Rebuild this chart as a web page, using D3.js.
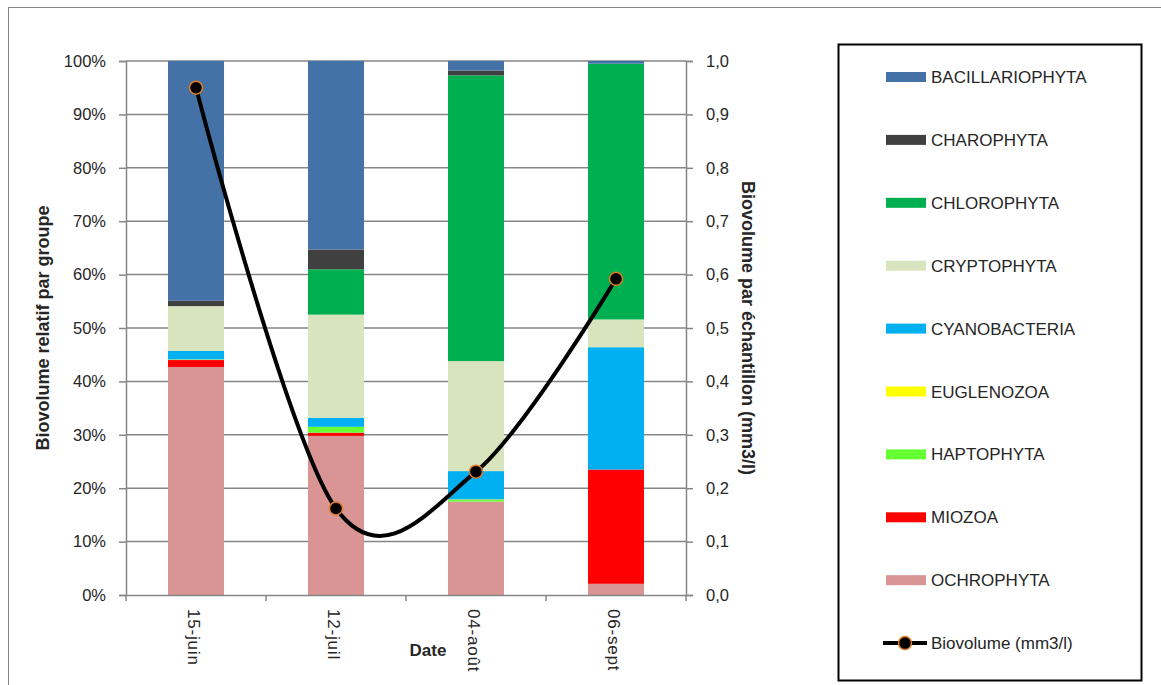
<!DOCTYPE html>
<html>
<head>
<meta charset="utf-8">
<script src="https://cdn.jsdelivr.net/npm/d3@7"></script>
<style>
  body { margin: 0; background: #fff; }
  svg { display: block; font-family: "Liberation Sans", Arial, sans-serif; }
</style>
</head>
<body>
<svg id="chart" width="1161" height="685"></svg>
<script>
// data (percent of biovolume per group)
const dates = ["15-juin", "12-juil", "04-août", "06-sept"];
const groups = ["BACILLARIOPHYTA", "CHAROPHYTA", "CHLOROPHYTA", "CRYPTOPHYTA",
  "CYANOBACTERIA", "EUGLENOZOA", "HAPTOPHYTA", "MIOZOA", "OCHROPHYTA"];
const colors = ["#4472A6", "#404040", "#00B050", "#D7E4BD",
  "#00B0F0", "#FFFF00", "#66FF33", "#FF0000", "#D99594"];

const bacillariophyta = [44.9, 35.3, 1.8, 0.5];
const charophyta      = [1.0, 3.7, 0.9, 0.0];
const chlorophyta     = [0.0, 8.5, 53.5, 47.9];
const cryptophyta     = [8.4, 19.3, 20.6, 5.2];
const cyanobacteria   = [1.6, 1.7, 5.3, 22.9];
const euglenozoa      = [0.1, 0.0, 0.1, 0.0];
const haptophyta      = [0.0, 1.1, 0.3, 0.0];
const miozoa          = [1.3, 0.6, 0.0, 21.4];
const ochrophyta      = [42.7, 29.8, 17.5, 2.1];

const biovolume = [0.95, 0.162, 0.231, 0.592]; // mm3/l

const pctTicks = [0, 10, 20, 30, 40, 50, 60, 70, 80, 90, 100];
const volTicks = [0, 0.1, 0.2, 0.3, 0.4, 0.5, 0.6, 0.7, 0.8, 0.9, 1.0];

const seriesByGroup = {
  BACILLARIOPHYTA: bacillariophyta, CHAROPHYTA: charophyta, CHLOROPHYTA: chlorophyta,
  CRYPTOPHYTA: cryptophyta, CYANOBACTERIA: cyanobacteria, EUGLENOZOA: euglenozoa,
  HAPTOPHYTA: haptophyta, MIOZOA: miozoa, OCHROPHYTA: ochrophyta
};

// rows for d3.stack
const rows = dates.map((d, i) => {
  const r = { date: d };
  groups.forEach(g => r[g] = seriesByGroup[g][i]);
  return r;
});

const svg = d3.select("#chart");
const plotLeft = 126, plotRight = 686, plotTop = 61, plotBottom = 595;
const grey = "#868686";
const textColor = "#262626";

// outer chart border
svg.append("rect")
  .attr("x", 8.5).attr("y", 7.5)
  .attr("width", 1170).attr("height", 700)
  .attr("fill", "none").attr("stroke", grey).attr("stroke-width", 1);

const x = d3.scaleBand().domain(dates).range([plotLeft, plotRight])
  .paddingInner(0.6).paddingOuter(0.3);
const y = d3.scaleLinear().domain([0, 100]).range([plotBottom, plotTop]);
const y2 = d3.scaleLinear().domain([0, 1]).range([plotBottom, plotTop]);
const color = d3.scaleOrdinal().domain(groups).range(colors);

// gridlines
svg.append("g").selectAll("line").data(pctTicks.slice(1)).join("line")
  .attr("x1", plotLeft).attr("x2", plotRight)
  .attr("y1", d => y(d)).attr("y2", d => y(d))
  .attr("stroke", grey).attr("stroke-width", 1.5);

// stacked bars, bottom group first
const stack = d3.stack().keys(groups.slice().reverse());
const layers = stack(rows);

svg.append("g").selectAll("g").data(layers).join("g")
  .attr("fill", d => color(d.key))
  .selectAll("rect").data(d => d).join("rect")
  .attr("x", d => x(d.data.date))
  .attr("width", x.bandwidth())
  .attr("y", d => y(d[1]))
  .attr("height", d => Math.max(0, y(d[0]) - y(d[1])));

// axes
const yAxis = d3.axisLeft(y).tickValues(pctTicks).tickFormat(d => d + "%")
  .tickSize(7).tickPadding(13);
const gy = svg.append("g").attr("transform", `translate(${plotLeft},0)`).call(yAxis);

const y2Axis = d3.axisRight(y2).tickValues(volTicks)
  .tickFormat(d => d3.format(".1f")(d).replace(".", ","))
  .tickSize(7).tickPadding(13);
const gy2 = svg.append("g").attr("transform", `translate(${plotRight},0)`).call(y2Axis);

const xAxis = d3.axisBottom(x).tickSize(0).tickFormat("");
const gx = svg.append("g").attr("transform", `translate(0,${plotBottom})`).call(xAxis);

// category boundary ticks on the x axis
const bounds = [plotLeft].concat(dates.map(d => x(d) + x.bandwidth() + x.step() * 0.3));
gx.selectAll(".bound").data(bounds).join("line").attr("class", "bound")
  .attr("x1", d => d).attr("x2", d => d)
  .attr("y1", 0).attr("y2", 6)
  .attr("stroke", grey).attr("stroke-width", 1.5);

[gy, gy2, gx].forEach(g => {
  g.select(".domain").attr("stroke", grey).attr("stroke-width", 1.5);
  g.selectAll(".tick line").attr("stroke", grey).attr("stroke-width", 1.5);
  g.selectAll("text").attr("fill", textColor).style("font-size", "16.5px")
    .style("font-family", "Liberation Sans, Arial, sans-serif");
});

// rotated date labels
svg.append("g").selectAll("text").data(dates).join("text")
  .attr("transform", d => `translate(${x(d) + x.bandwidth() / 2 - 8},609) rotate(90)`)
  .attr("text-anchor", "start")
  .style("font-size", "17px").style("letter-spacing", "0.8px").attr("fill", textColor)
  .text(d => d);

// axis titles
svg.append("text")
  .attr("transform", "translate(49,328) rotate(-90)")
  .attr("text-anchor", "middle").style("font-size", "18px").style("font-weight", "bold")
  .attr("fill", textColor)
  .text("Biovolume relatif par groupe");

svg.append("text")
  .attr("transform", "translate(742,328) rotate(90)")
  .attr("text-anchor", "middle").style("font-size", "18px").style("font-weight", "bold")
  .attr("fill", textColor)
  .text("Biovolume par échantillon (mm3/l)");

svg.append("text")
  .attr("x", 428).attr("y", 656)
  .attr("text-anchor", "middle").style("font-size", "17px").style("font-weight", "bold")
  .attr("fill", textColor)
  .text("Date");

// smoothed biovolume line
const cx = (d, i) => x(dates[i]) + x.bandwidth() / 2;
const line = d3.line().x(cx).y(d => y2(d)).curve(d3.curveCardinal.tension(0));

svg.append("path").datum(biovolume)
  .attr("d", line)
  .attr("fill", "none").attr("stroke", "#000").attr("stroke-width", 4);

svg.append("g").selectAll("circle").data(biovolume).join("circle")
  .attr("cx", cx).attr("cy", d => y2(d)).attr("r", 6.5)
  .attr("fill", "#000").attr("stroke", "#E07C26").attr("stroke-width", 1.5);

// legend
const lg = svg.append("g");
lg.append("rect")
  .attr("x", 838.5).attr("y", 44.5).attr("width", 303).attr("height", 636)
  .attr("fill", "#fff").attr("stroke", "#000").attr("stroke-width", 2);

const step = 62.9;
const items = lg.selectAll("g.item").data(groups).join("g")
  .attr("class", "item")
  .attr("transform", (d, i) => `translate(0,${77 + i * step})`);
items.append("rect")
  .attr("x", 886).attr("y", -5).attr("width", 40).attr("height", 10)
  .attr("fill", d => color(d));
items.append("text")
  .attr("x", 931).attr("y", 6)
  .style("font-size", "17px").attr("fill", textColor)
  .text(d => d);

const ly = 77 + groups.length * step;
lg.append("line")
  .attr("x1", 883).attr("x2", 927).attr("y1", ly).attr("y2", ly)
  .attr("stroke", "#000").attr("stroke-width", 4);
lg.append("circle")
  .attr("cx", 905).attr("cy", ly).attr("r", 6.5)
  .attr("fill", "#000").attr("stroke", "#E07C26").attr("stroke-width", 1.5);
lg.append("text")
  .attr("x", 931).attr("y", ly + 6)
  .style("font-size", "17px").attr("fill", textColor)
  .text("Biovolume (mm3/l)");
</script>
</body>
</html>
